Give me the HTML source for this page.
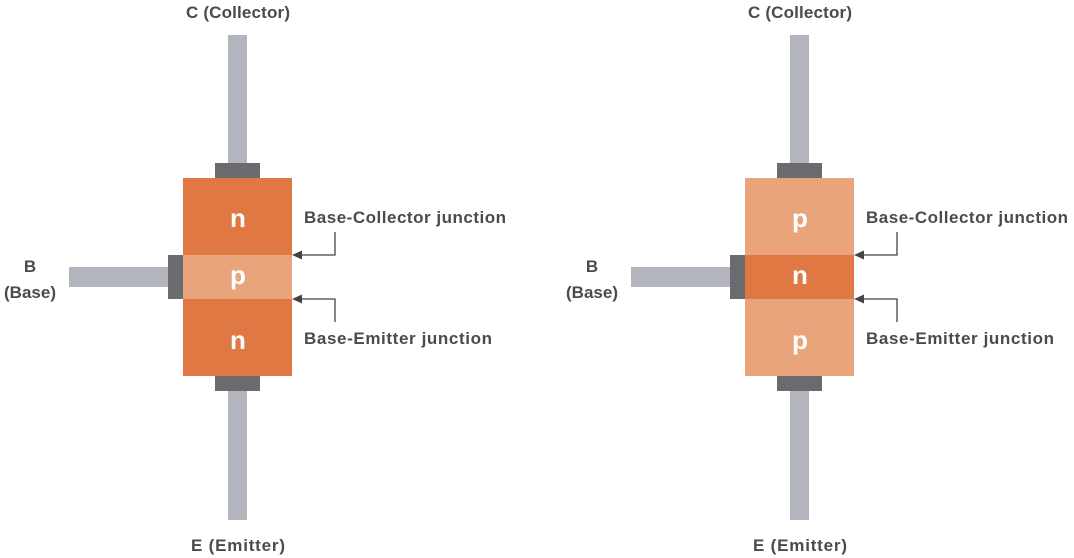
<!DOCTYPE html>
<html><head><style>
body{margin:0;width:1074px;height:558px;background:#fff;position:relative;overflow:hidden;font-family:"Liberation Sans",sans-serif;color:#4a4a4f}
svg{position:absolute;left:0;top:0}
</style></head><body>
<svg width="1074" height="558" viewBox="0 0 1074 558">
<defs>
<g id="t">
<rect x="228" y="35" width="19" height="130" fill="#b3b5be"/>
<rect x="228" y="389" width="19" height="131" fill="#b3b5be"/>
<rect x="69" y="267" width="101" height="20" fill="#b3b5be"/>
<rect x="215" y="163" width="45" height="15" fill="#6a6a6f"/>
<rect x="215" y="376" width="45" height="15" fill="#6a6a6f"/>
<rect x="168" y="255" width="15" height="44" fill="#6a6a6f"/>
<polyline points="294,255 335,255 335,232" fill="none" stroke="#444" stroke-width="1.3"/>
<polygon points="292,255 302,250.5 302,259.5" fill="#444"/>
<polyline points="294,299 335,299 335,322" fill="none" stroke="#444" stroke-width="1.3"/>
<polygon points="292,299 302,294.5 302,303.5" fill="#444"/>
<g font-weight="bold" font-size="17" fill="#4a4a4f">
<text x="238" y="18" text-anchor="middle" textLength="104">C (Collector)</text>
<text x="238" y="551" text-anchor="middle" textLength="94">E (Emitter)</text>
<text x="30" y="272" text-anchor="middle">B</text>
<text x="30" y="298" text-anchor="middle">(Base)</text>
<text x="304" y="223" textLength="202">Base-Collector junction</text>
<text x="304" y="344" textLength="188">Base-Emitter junction</text>
</g>
</g>
</defs>
<use href="#t"/>
<use href="#t" transform="translate(562,0)"/>
<rect x="183" y="178" width="109" height="77" fill="#e07843"/>
<rect x="183" y="255" width="109" height="44" fill="#e9a47c"/>
<rect x="183" y="299" width="109" height="77" fill="#e07843"/>
<rect x="745" y="178" width="109" height="77" fill="#e9a47c"/>
<rect x="745" y="255" width="109" height="44" fill="#e07843"/>
<rect x="745" y="299" width="109" height="77" fill="#e9a47c"/>
<g font-weight="bold" font-size="26" fill="#fff" text-anchor="middle">
<text x="238" y="227">n</text><text x="238" y="284">p</text><text x="238" y="349">n</text>
<text x="800" y="227">p</text><text x="800" y="284">n</text><text x="800" y="349">p</text>
</g>
</svg>
</body></html>
